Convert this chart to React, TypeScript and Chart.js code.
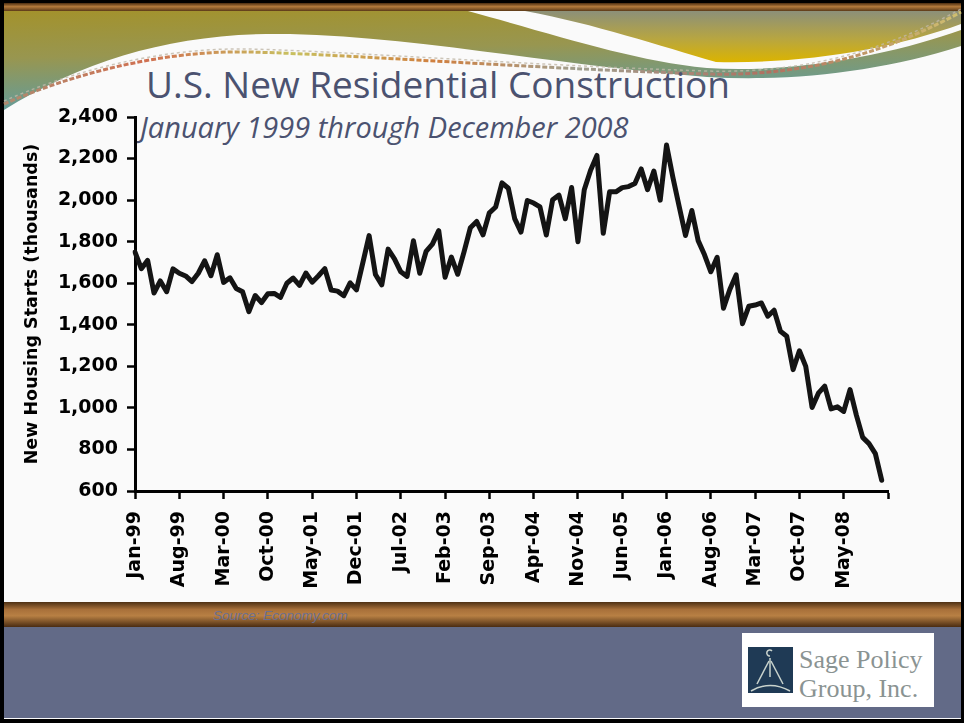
import React, { useEffect, useRef } from 'react';
import { Chart, registerables } from 'chart.js';

Chart.register(...registerables);

// ---- Data (thousands of units, SAAR) ----
const years = ['99', '00', '01', '02', '03', '04', '05', '06', '07', '08'];
const monthNames = ['Jan', 'Feb', 'Mar', 'Apr', 'May', 'Jun', 'Jul', 'Aug', 'Sep', 'Oct', 'Nov', 'Dec'];
const categories = years.flatMap((y) => monthNames.map((m) => `${m}-${y}`));

const starts1999 = [1750, 1670, 1710, 1553, 1611, 1559, 1669, 1648, 1635, 1608, 1648, 1708];
const starts2000 = [1636, 1737, 1604, 1626, 1575, 1559, 1463, 1541, 1507, 1549, 1551, 1532];
const starts2001 = [1600, 1625, 1590, 1649, 1605, 1636, 1670, 1567, 1562, 1540, 1602, 1568];
const starts2002 = [1698, 1829, 1642, 1592, 1764, 1717, 1655, 1633, 1804, 1648, 1753, 1788];
const starts2003 = [1853, 1629, 1726, 1643, 1751, 1867, 1897, 1833, 1939, 1967, 2083, 2057];
const starts2004 = [1911, 1846, 1998, 1986, 1967, 1832, 2002, 2024, 1910, 2061, 1800, 2050];
const starts2005 = [2144, 2215, 1840, 2040, 2040, 2060, 2065, 2080, 2150, 2050, 2140, 2000];
const starts2006 = [2265, 2110, 1969, 1830, 1950, 1805, 1737, 1655, 1725, 1480, 1570, 1640];
const starts2007 = [1405, 1489, 1495, 1505, 1441, 1470, 1369, 1345, 1184, 1275, 1200, 1002];
const starts2008 = [1071, 1105, 995, 1005, 983, 1088, 965, 858, 828, 780, 652, null];

const housingStarts = [
  ...starts1999, ...starts2000, ...starts2001, ...starts2002, ...starts2003,
  ...starts2004, ...starts2005, ...starts2006, ...starts2007, ...starts2008,
];

const xTickLabels = [
  'Jan-99', 'Aug-99', 'Mar-00', 'Oct-00', 'May-01', 'Dec-01', 'Jul-02', 'Feb-03', 'Sep-03',
  'Apr-04', 'Nov-04', 'Jun-05', 'Jan-06', 'Aug-06', 'Mar-07', 'Oct-07', 'May-08',
];
const tickEvery = 7;
const yMin = 600;
const yMax = 2400;
const yStep = 200;

const titleText = 'U.S. New Residential Construction';
const subtitleText = 'January 1999 through December 2008';
const yAxisTitle = 'New Housing Starts (thousands)';
const sourceText = 'Source: Economy.com';

const W = 964;
const H = 723;

function Decorations() {
  return (
    <svg width={W} height={H} style={{ position: 'absolute', left: 0, top: 0 }}>
      <defs>
        <linearGradient id="topBar" x1="0" y1="0" x2="0" y2="1">
          <stop offset="0" stopColor="#4a2c10" />
          <stop offset="0.45" stopColor="#b27a3c" />
          <stop offset="1" stopColor="#5c3a18" />
        </linearGradient>
        <linearGradient id="botBar" x1="0" y1="0" x2="0" y2="1">
          <stop offset="0" stopColor="#4e3014" />
          <stop offset="0.3" stopColor="#a8703a" />
          <stop offset="0.55" stopColor="#b88044" />
          <stop offset="1" stopColor="#4a2c12" />
        </linearGradient>
        <linearGradient id="leftWave" x1="0" y1="0" x2="0.25" y2="1">
          <stop offset="0" stopColor="#a3922c" />
          <stop offset="0.45" stopColor="#989650" />
          <stop offset="1" stopColor="#5e9da2" />
        </linearGradient>
        <linearGradient id="rightWave" x1="0" y1="0" x2="0" y2="1">
          <stop offset="0" stopColor="#8c9079" />
          <stop offset="0.55" stopColor="#b8a640" />
          <stop offset="1" stopColor="#dbb400" />
        </linearGradient>
        <linearGradient id="stitch" x1="0" y1="0" x2="1" y2="0">
          <stop offset="0" stopColor="#b08a70" />
          <stop offset="0.15" stopColor="#d07050" />
          <stop offset="0.3" stopColor="#c8c060" />
          <stop offset="0.45" stopColor="#d08040" />
          <stop offset="0.6" stopColor="#a0a090" />
          <stop offset="0.8" stopColor="#b07060" />
          <stop offset="1" stopColor="#d0c070" />
        </linearGradient>
      </defs>
      <rect x={0} y={0} width={W} height={H} fill="#000" />
      <rect x={4} y={3} width={957} height={716} fill="#fafafa" />
      <rect x={4} y={3} width={957} height={8} fill="url(#topBar)" />
      <path
        d="M4,11 H468 C 560,36 630,60 707,68 C 800,74 900,52 961,30 V 46 C 880,72 790,82 707,77 C 560,66 420,37 290,34 C 180,32 90,57 4,110 Z"
        fill="url(#leftWave)"
      />
      <path
        d="M525,11 H961 V 24 C 890,50 800,64 716,62 C 660,46 595,24 525,11 Z"
        fill="url(#rightWave)"
      />
      <path
        d="M4,104 C 70,75 160,50 250,52 C 360,55 520,68 707,74 C 820,77 900,45 961,12"
        fill="none" stroke="url(#stitch)" strokeWidth={3} strokeDasharray="5 2"
      />
      <path
        d="M4,101 C 70,72 160,47 250,49 C 360,52 520,65 707,71 C 820,74 900,42 961,9"
        fill="none" stroke="#c0b8a8" strokeWidth={1.5} strokeDasharray="3 3" opacity={0.8}
      />
      <text x={438} y={98} textAnchor="middle" fontFamily="'Open Sans', sans-serif" fontSize={37} fill="#4b5270">
        {titleText}
      </text>
      <text x={140} y={138} fontFamily="'Open Sans', sans-serif" fontStyle="italic" fontSize={29} fill="#4b5270">
        {subtitleText}
      </text>
      <rect x={4} y={602} width={957} height={25} fill="url(#botBar)" />
      <rect x={4} y={627} width={957} height={91} fill="#626a87" />
      <text x={213} y={620} fontFamily="'Liberation Sans', Arial, sans-serif" fontStyle="italic" fontSize={13.5} fill="#6a6f92">
        {sourceText}
      </text>
      <rect x={742} y={633} width={192} height={74} fill="#ffffff" />
      <rect x={748} y={647} width={45} height={46} fill="#1f3a55" />
      <g stroke="#c9d3cd" strokeWidth={1.5} fill="none">
        <path d="M772,651 A3,3 0 1,0 770,656" />
        <line x1={770} y1={658} x2={770} y2={677} />
        <line x1={769} y1={661} x2={757} y2={684} />
        <line x1={771} y1={661} x2={783} y2={684} />
        <path d="M751,691 Q 770,680 790,691" />
      </g>
      <text x={799} y={668} fontFamily="'Liberation Serif', 'DejaVu Serif', serif" fontSize={26} fill="#8a9392">
        Sage Policy
      </text>
      <text x={799} y={697} fontFamily="'Liberation Serif', 'DejaVu Serif', serif" fontSize={26} fill="#8a9392">
        Group, Inc.
      </text>
    </svg>
  );
}

export default function App() {
  const canvasRef = useRef<HTMLCanvasElement | null>(null);

  useEffect(() => {
    const canvas = canvasRef.current;
    if (!canvas) return;
    const tickFont = { family: "'DejaVu Sans', sans-serif", weight: 'bold' as const, size: 19 };
    const chart = new Chart(canvas, {
      type: 'line',
      data: {
        labels: categories,
        datasets: [
          {
            data: housingStarts,
            borderColor: '#141414',
            borderWidth: 5,
            pointRadius: 0,
            tension: 0,
            borderJoinStyle: 'round',
            borderCapStyle: 'round',
            fill: false,
          },
        ],
      },
      options: {
        responsive: false,
        animation: false,
        layout: { padding: { left: 0, top: 117, right: 76, bottom: 0 } },
        plugins: { legend: { display: false }, tooltip: { enabled: false } },
        scales: {
          x: {
            type: 'category',
            offset: false,
            grid: {
              display: true,
              drawOnChartArea: false,
              drawTicks: true,
              tickLength: 8,
              tickWidth: 2.5,
              tickColor: (ctx: any) => (ctx.index % tickEvery === 0 ? '#000' : 'rgba(0,0,0,0)'),
            },
            border: { display: true, color: '#000', width: 3 },
            ticks: {
              autoSkip: false,
              minRotation: 90,
              maxRotation: 90,
              padding: 12,
              color: '#000',
              font: tickFont,
              callback: (_v: any, i: number) =>
                i % tickEvery === 0 ? xTickLabels[i / tickEvery] ?? '' : '',
            },
            afterFit: (s: any) => {
              s.height = 232;
            },
          },
          y: {
            min: yMin,
            max: yMax,
            grid: {
              display: true,
              drawOnChartArea: false,
              drawTicks: true,
              tickLength: 8,
              tickWidth: 2.5,
              tickColor: '#000',
            },
            border: { display: true, color: '#000', width: 3 },
            ticks: {
              stepSize: yStep,
              padding: 9,
              color: '#000',
              font: tickFont,
              callback: (v: any) => Number(v).toLocaleString('en-US'),
            },
            title: {
              display: true,
              text: yAxisTitle,
              color: '#000',
              font: { family: "'DejaVu Sans', sans-serif", weight: 'bold', size: 17.5 },
              padding: { top: 22, bottom: 0 },
            },
            afterFit: (s: any) => {
              s.width = 135;
            },
          },
        },
      },
    } as any);
    return () => chart.destroy();
  }, []);

  return (
    <div style={{ position: 'absolute', left: 0, top: 0, width: W, height: H, overflow: 'hidden' }}>
      <Decorations />
      <canvas
        ref={canvasRef}
        width={W}
        height={H}
        style={{ position: 'absolute', left: 0, top: 0, width: W, height: H }}
      />
    </div>
  );
}
